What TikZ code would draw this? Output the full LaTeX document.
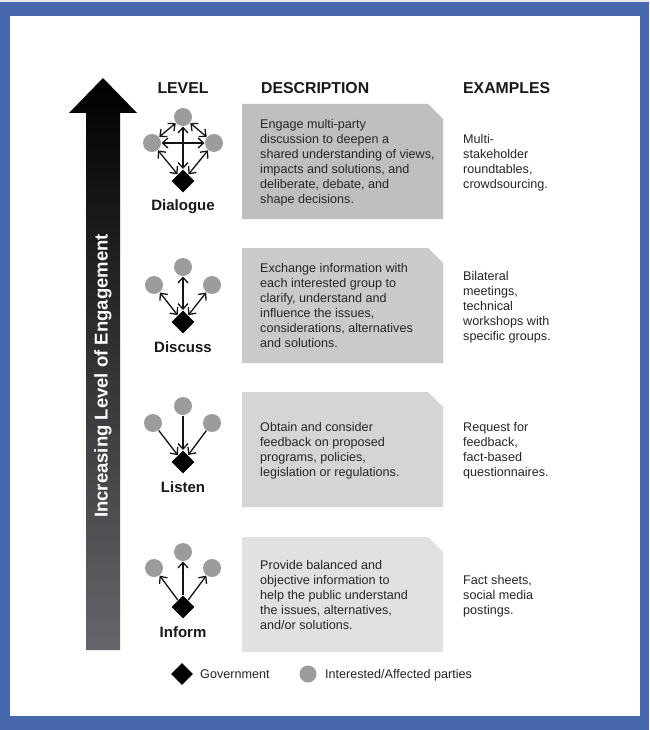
\documentclass[tikz,border=0pt]{standalone}
\usepackage{fontspec}
\setmainfont{Liberation Sans}
\usetikzlibrary{shapes.geometric,arrows.meta}
\definecolor{frameblue}{HTML}{4767AD}
\definecolor{arrowgray}{HTML}{65666B}
\definecolor{partygray}{HTML}{9C9C9C}
\definecolor{txt}{HTML}{262626}
\definecolor{boxA}{HTML}{C0BFBF}
\definecolor{boxB}{HTML}{CBCACA}
\definecolor{boxC}{HTML}{D6D5D5}
\definecolor{boxD}{HTML}{E2E1E1}
\newcommand\stext[1]{\strut#1\strut}
\begin{document}
\begin{tikzpicture}[x=1pt,y=-1pt,
  party/.style={circle, fill=partygray, minimum size=18pt, inner sep=0pt},
  gov/.style={diamond, fill=black, minimum width=23pt, minimum height=23pt, inner sep=0pt},
  link/.style={line width=1.3pt, draw=black!92, shorten >=0.3pt, shorten <=0.3pt,
    >={Straight Barb[length=5.5pt,width=10pt]}},
  head/.style={font=\fontsize{15.8}{18}\selectfont\bfseries, text=black!90, inner sep=0pt},
  lvl/.style={font=\fontsize{15}{18}\selectfont\bfseries, text=black!90, inner sep=0pt, anchor=base},
  desc/.style={anchor=west, align=left, inner sep=0pt, text=txt,
    font=\fontsize{12.6}{15}\selectfont},
  legend/.style={anchor=base west, inner sep=0pt, text=txt, font=\fontsize{12.6}{15}\selectfont}
]
\useasboundingbox (0,0) rectangle (649,730);
% frame
\fill[frameblue] (0,0) rectangle (649,730);
\fill[black!8] (0,0) rectangle (649,2);
\fill[white] (10,16) rectangle (640,716);

% big arrow
\shade[top color=black, bottom color=arrowgray]
  (86,650) -- (86,113) -- (69,113) -- (103,78) -- (137,113) -- (120,113) -- (120,650) -- cycle;
\node[rotate=90, text=white, font=\fontsize{18.5}{20}\selectfont\bfseries, inner sep=0pt]
  (engage) at (103,376) {Increasing Level of Engagement};

% headers
\node[head, anchor=base] (hlevel) at (183,94) {LEVEL};
\node[head, anchor=base west] (hdesc) at (261,94) {DESCRIPTION};
\node[head, anchor=base west] (hex) at (463,94) {EXAMPLES};

% description boxes
\fill[boxA] (242,104) -- (428,104) -- (443,119) -- (443,219) -- (242,219) -- cycle;
\fill[boxB] (242,248) -- (428,248) -- (443,263) -- (443,363) -- (242,363) -- cycle;
\fill[boxC] (242,392) -- (428,392) -- (443,407) -- (443,507) -- (242,507) -- cycle;
\fill[boxD] (242,537) -- (428,537) -- (443,552) -- (443,652) -- (242,652) -- cycle;

\node[desc] (d1) at (260,163) {\stext{Engage multi-party\\discussion to deepen a\\shared understanding of views,\\impacts and solutions, and\\deliberate, debate, and\\shape decisions.}};
\node[desc] (d2) at (260,307) {\stext{Exchange information with\\each interested group to\\clarify, understand and\\influence the issues,\\considerations, alternatives\\and solutions.}};
\node[desc] (d3) at (260,451) {\stext{Obtain and consider\\feedback on proposed\\programs, policies,\\legislation or regulations.}};
\node[desc] (d4) at (260,596) {\stext{Provide balanced and\\objective information to\\help the public understand\\the issues, alternatives,\\and/or solutions.}};

\node[desc] (e1) at (463,163) {\stext{Multi-\\stakeholder\\roundtables,\\crowdsourcing.}};
\node[desc] (e2) at (463,307) {\stext{Bilateral\\meetings,\\technical\\workshops with\\specific groups.}};
\node[desc] (e3) at (463,451) {\stext{Request for\\feedback,\\fact-based\\questionnaires.}};
\node[desc] (e4) at (463,596) {\stext{Fact sheets,\\social media\\postings.}};

% Dialogue
\node[gov] (g1) at (183,181) {};
\node[party] (t1) at (183,117) {};
\node[party] (l1) at (152,143) {};
\node[party] (r1) at (214,143) {};
\draw[link,<->] (t1) -- (l1);
\draw[link,<->] (t1) -- (r1);
\draw[link,<->] (l1) -- (r1);
\draw[link,<->] (t1) -- (g1);
\draw[link,<->] (l1) -- (g1);
\draw[link,<->] (r1) -- (g1);
\node[lvl] (n1) at (183,210) {Dialogue};

% Discuss
\node[gov] (g2) at (183,322) {};
\node[party] (t2) at (183,267) {};
\node[party] (l2) at (154,285) {};
\node[party] (r2) at (212,285) {};
\draw[link,<->] (t2) -- (g2);
\draw[link,<->] (l2) -- (g2);
\draw[link,<->] (r2) -- (g2);
\node[lvl] (n2) at (183,352) {Discuss};

% Listen
\node[gov] (g3) at (183,462) {};
\node[party] (t3) at (183,406) {};
\node[party] (l3) at (153,423) {};
\node[party] (r3) at (212,423) {};
\draw[link,->] (t3) -- (g3);
\draw[link,->] (l3) -- (g3);
\draw[link,->] (r3) -- (g3);
\node[lvl] (n3) at (183,492) {Listen};

% Inform
\node[gov] (g4) at (183,607) {};
\node[party] (t4) at (183,552) {};
\node[party] (l4) at (154,568) {};
\node[party] (r4) at (212,568) {};
\draw[link,->] (g4) -- (t4);
\draw[link,->] (g4) -- (l4);
\draw[link,->] (g4) -- (r4);
\node[lvl] (n4) at (183,637) {Inform};

% legend
\node[gov, minimum width=22pt, minimum height=22pt] (lg) at (182,674) {};
\node[legend] (lgt) at (200,678.5) {Government};
\node[party, minimum size=17pt] (lp) at (308,674) {};
\node[legend] (lpt) at (325,678.5) {Interested/Affected parties};
\end{tikzpicture}
\end{document}
